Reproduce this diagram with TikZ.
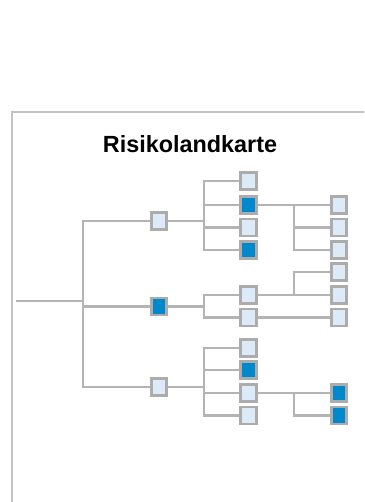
\documentclass[tikz,border=0pt]{standalone}
\usepackage{fontspec}
\setmainfont{Liberation Sans}
\usetikzlibrary{calc,backgrounds}
\definecolor{framegray}{HTML}{C4C4C4}
\definecolor{linegray}{HTML}{B4B4B4}
\definecolor{boxborder}{HTML}{ACACAC}
\definecolor{lightfill}{HTML}{DDEAF8}
\definecolor{darkfill}{HTML}{0088CC}
\tikzset{
  lbox/.style={draw=boxborder, line width=2.6pt, fill=lightfill, minimum width=15.5pt, minimum height=17pt, inner sep=0pt},
  dbox/.style={lbox, fill=darkfill},
  link/.style={draw=linegray, line width=2.4pt},
  frameline/.style={draw=framegray, line width=1.6pt}
}
\begin{document}
\begin{tikzpicture}[x=1pt, y=-1pt]
\useasboundingbox (0,0) rectangle (364,502);
\clip (0,0) rectangle (364,502);
% outer frame, continuing past the page edges
\draw[frameline] (12,510) -- (12,112) -- (372,112);
% title
\node[anchor=base, font=\bfseries\fontsize{23.4}{28}\selectfont] (title) at (190,152.7) {Risikolandkarte};
% root and trunk
\coordinate (root) at (16,300.7);
\coordinate (tr) at (83,300.7);
% first level
\node[lbox] (A1) at (159,221) {};
\node[dbox] (A2) at (159,306.5) {};
\node[lbox] (A3) at (159,387) {};
% second level
\node[lbox] (B1) at (248.5,181) {};
\node[dbox] (B2) at (248.5,205) {};
\node[lbox] (B3) at (248.5,227.5) {};
\node[dbox] (B4) at (248.5,250) {};
\node[lbox] (C1) at (248.5,295) {};
\node[lbox] (C2) at (248.5,317.5) {};
\node[lbox] (D1) at (248.5,348) {};
\node[dbox] (D2) at (248.5,370) {};
\node[lbox] (D3) at (248.5,393) {};
\node[lbox] (D4) at (248.5,415.5) {};
% third level
\node[lbox] (E1) at (339,205) {};
\node[lbox] (E2) at (339,227.5) {};
\node[lbox] (E3) at (339,250) {};
\node[lbox] (F1) at (339,272) {};
\node[lbox] (F2) at (339,295) {};
\node[lbox] (F3) at (339,317.5) {};
\node[dbox] (G1) at (339,393) {};
\node[dbox] (G2) at (339,415.5) {};
% connectors, kept behind the boxes
\begin{pgfonlayer}{background}
\draw[link] (root) -- (tr);
\foreach \c in {A1,A2,A3} \draw[link] (\c.west) -| (tr);
\foreach \p/\c in {A1/B1,A1/B2,A1/B3,A1/B4,A2/C1,A2/C2,A3/D1,A3/D2,A3/D3,A3/D4,
                   B2/E1,B2/E2,B2/E3,C1/F1,C1/F2,C2/F3,D3/G1,D3/G2}
  \draw[link] (\p.east) -| ($(\p.east)!.5!(\c.west)$) |- (\c.west);
\end{pgfonlayer}
\end{tikzpicture}
\end{document}
